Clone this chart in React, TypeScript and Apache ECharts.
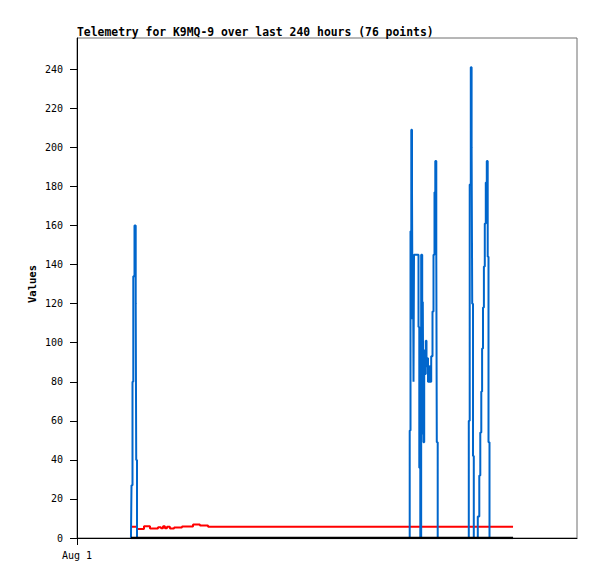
import React, { useEffect, useRef } from "react";
import * as echarts from "echarts";

const titleText = "Telemetry for K9MQ-9 over last 240 hours (76 points)";
const yAxisName = "Values";
const xTickHours = [0];
const xTickLabels = ["Aug 1"];
const yTickValues = [0, 20, 40, 60, 80, 100, 120, 140, 160, 180, 200, 220, 240];

const blueHours = [
  25.9, 26.16, 26.64, 27.02, 27.6, 28.18, 28.42, 28.8,
  159.7, 160.08, 160.46, 160.8, 161.04, 161.28, 161.52, 161.76, 163.92, 164.3, 164.78,
  165.2, 165.7, 165.98, 166.3, 166.66, 167.04, 167.42, 167.76, 168.14, 168.48, 169.2,
  169.68, 170.02, 170.64, 171.12, 171.6, 171.98, 172.46, 172.7, 173.14,
  188.06, 188.5, 189.02, 189.41, 189.7, 190.08, 190.46,
  192.38, 193.1, 193.58, 194.06, 194.45, 194.88, 195.31, 195.74, 196.22, 196.7, 197.14, 197.52, 198.0,
  209.3,
];
const blueValues = [
  0, 27, 80, 134, 160, 120, 40, 0,
  55, 157, 209, 177, 112, 145, 80, 145, 108, 36, 0,
  145, 53, 121, 49, 96, 84, 101, 88, 92, 80, 88,
  80, 93, 116, 145, 177, 193, 145, 49, 0,
  60, 181, 241, 200, 120, 42, 0,
  11, 32, 54, 75, 97, 118, 139, 161, 182, 193, 144, 49, 0,
  0,
];

const redHours = [26.4, 28.8, 32.16, 35.04, 38.88, 40.3, 41.3, 42.2, 43.2, 44.6, 46.6, 50.4, 55.7, 59.0, 62.9, 209.3];
const redValues = [5.8, 4.6, 6.0, 4.9, 5.5, 5.0, 6.0, 5.0, 5.8, 4.9, 5.4, 5.9, 6.9, 6.4, 5.8, 5.8];

const blackHours = [25.9, 209.3];
const blackValues = [0, 0];

const pairs = (xs: number[], ys: number[]) => xs.map((x, i) => [x, ys[i]]);

export default function App() {
  const ref = useRef<HTMLDivElement>(null);
  useEffect(() => {
    if (!ref.current) return;
    const chart = echarts.init(ref.current, undefined, { renderer: "svg" });
    const mono = "DejaVu Sans Mono";
    chart.setOption({
      animation: false,
      backgroundColor: "#ffffff",
      title: {
        text: titleText,
        left: 77,
        top: 26,
        padding: 0,
        textStyle: { fontFamily: mono, fontWeight: "bold", fontSize: 11.4, color: "#000" },
      },
      grid: {
        left: 77,
        right: 20,
        top: 38,
        bottom: 41,
        show: true,
        borderColor: "#6e6e6e",
        borderWidth: 1,
        backgroundColor: "transparent",
      },
      graphic: [
        {
          type: "text",
          x: 32,
          y: 284,
          rotation: Math.PI / 2,
          style: {
            text: yAxisName,
            fontFamily: mono,
            fontWeight: "bold",
            fontSize: 10.5,
            fill: "#000",
            align: "center",
            verticalAlign: "middle",
          },
        },
      ],
      xAxis: {
        type: "value",
        min: 0,
        max: 240,
        axisLine: { show: true, lineStyle: { color: "#000", width: 1 } },
        axisTick: { show: true, length: 7, customValues: xTickHours, lineStyle: { color: "#000" } },
        axisLabel: {
          show: true,
          customValues: xTickHours,
          formatter: (v: number) => xTickLabels[xTickHours.indexOf(v)] ?? "",
          fontFamily: mono,
          fontSize: 10,
          color: "#000",
          margin: 12,
        },
        splitLine: { show: false },
      },
      yAxis: {
        type: "value",
        min: 0,
        max: 256,
        axisLine: { show: true, lineStyle: { color: "#000", width: 1 } },
        axisTick: { show: true, length: 7, customValues: yTickValues, lineStyle: { color: "#000" } },
        axisLabel: {
          show: true,
          customValues: yTickValues,
          fontFamily: mono,
          fontSize: 10,
          color: "#000",
          margin: 14,
        },
        splitLine: { show: false },
      },
      series: [
        {
          type: "line",
          step: "end",
          data: pairs(redHours, redValues),
          showSymbol: false,
          lineStyle: { color: "#ff0000", width: 2 },
          z: 2,
        },
        {
          type: "line",
          step: "end",
          data: pairs(blueHours, blueValues),
          showSymbol: false,
          lineStyle: { color: "#0066cc", width: 2 },
          z: 3,
        },
        {
          type: "line",
          data: pairs(blackHours, blackValues),
          showSymbol: false,
          lineStyle: { color: "#000000", width: 2.5 },
          z: 4,
        },
      ],
    });
    return () => chart.dispose();
  }, []);
  return (
    <div
      ref={ref}
      style={{ position: "fixed", left: 0, top: 0, width: 597, height: 579 }}
    />
  );
}
